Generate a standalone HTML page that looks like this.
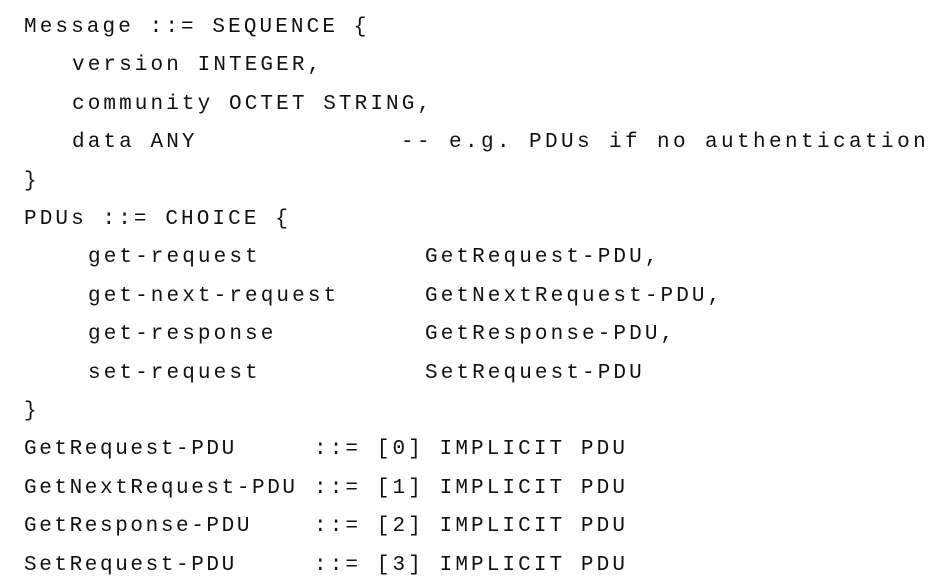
<!DOCTYPE html>
<html><head><meta charset="utf-8"><style>
html,body{margin:0;padding:0;background:#fff;width:942px;height:587px;overflow:hidden}
div{position:absolute;white-space:pre;font-family:"Liberation Mono",monospace;font-size:21px;letter-spacing:3.1px;line-height:38.4px;color:#111}
.w{letter-spacing:3.4px}
.n{letter-spacing:2.6px}
</style></head><body>
<div style="left:24px;top:9px">Message ::= SEQUENCE {</div>
<div style="left:72px;top:47.4px">version INTEGER,</div>
<div style="left:72px;top:85.8px">community OCTET STRING,</div>
<div style="left:72px;top:124.2px">data ANY</div>
<div class="w" style="left:401px;top:124.2px">-- e.g. PDUs if no authentication</div>
<div style="left:24px;top:162.6px">}</div>
<div style="left:24px;top:201px">PDUs ::= CHOICE {</div>
<div style="left:88px;top:239.4px">get-request</div>
<div style="left:425px;top:239.4px">GetRequest-PDU,</div>
<div style="left:88px;top:277.8px">get-next-request</div>
<div style="left:425px;top:277.8px">GetNextRequest-PDU,</div>
<div style="left:88px;top:316.2px">get-response</div>
<div style="left:425px;top:316.2px">GetResponse-PDU,</div>
<div style="left:88px;top:354.6px">set-request</div>
<div style="left:425px;top:354.6px">SetRequest-PDU</div>
<div style="left:24px;top:393px">}</div>
<div class="n" style="left:24px;top:431.4px">GetRequest-PDU</div>
<div class="n" style="left:24px;top:469.8px">GetNextRequest-PDU</div>
<div class="n" style="left:24px;top:508.2px">GetResponse-PDU</div>
<div class="n" style="left:24px;top:546.6px">SetRequest-PDU</div>
<div style="left:314px;top:431.4px">::= [0] IMPLICIT PDU</div>
<div style="left:314px;top:469.8px">::= [1] IMPLICIT PDU</div>
<div style="left:314px;top:508.2px">::= [2] IMPLICIT PDU</div>
<div style="left:314px;top:546.6px">::= [3] IMPLICIT PDU</div>
</body></html>
